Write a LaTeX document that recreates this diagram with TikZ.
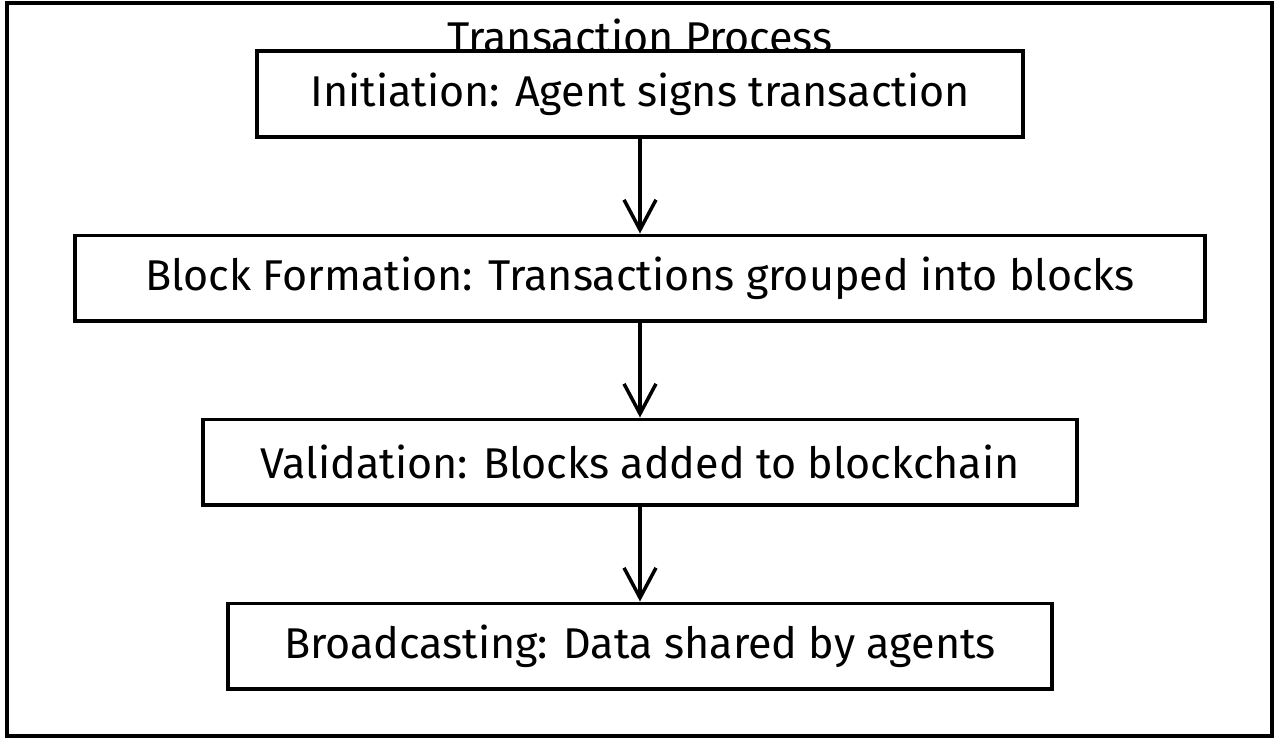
\documentclass[tikz,border=0pt]{standalone}
\usepackage{fontspec}
\setmainfont{Fira Sans}
\usetikzlibrary{arrows.meta,positioning}
\tikzset{
  stage/.style ={draw,line width=2pt,align=center,minimum height=17.1mm,
                 inner sep=0pt,font=\fontsize{24.5}{29}\selectfont},
  title/.style ={font=\fontsize{24.5}{29}\selectfont,inner sep=0pt},
  ar/.style    ={-{Straight Barb[length=6mm,width=6.4mm,line width=2pt]},line width=2pt},
}

\begin{document}
\begin{tikzpicture}[node distance=19mm]
\useasboundingbox (0,0) rectangle (25.54,-14.82);
% frame
\draw[line width=2pt] (0.14,-0.06) rectangle (25.44,-14.72);
\node[title] (T) at (12.8,-0.72) {Transaction Process};
% stages
\node[stage,minimum width=153.2mm] (INI) at (12.8,-1.88) {Initiation: Agent signs transaction};
\node[stage,minimum width=226mm,below=of INI] (BF) {Block Formation: Transactions grouped into blocks};
\node[stage,minimum width=174.8mm,below=of BF] (VAL) {Validation: Blocks added to blockchain};
\node[stage,minimum width=164.8mm,below=of VAL] (BC) {Broadcasting: Data shared by agents};
% edges
\draw[ar] (INI) -- (BF);
\draw[ar] (BF) -- (VAL);
\draw[ar] (VAL) -- (BC);
\end{tikzpicture}
\end{document}
